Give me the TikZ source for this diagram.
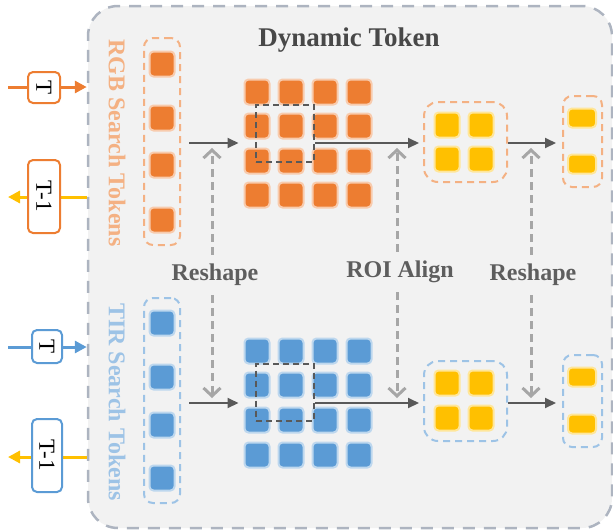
\documentclass[tikz,border=0pt]{standalone}
\usepackage{fontspec}
\setmainfont{Liberation Serif}
\usetikzlibrary{arrows.meta,calc}
\definecolor{bgfill}{HTML}{F2F2F2}
\definecolor{bgline}{HTML}{ADB4C0}
\definecolor{orng}{HTML}{ED7D31}
\definecolor{orngl}{HTML}{F8CBAD}
\definecolor{orngd}{HTML}{F4B183}
\definecolor{blu}{HTML}{5B9BD5}
\definecolor{blul}{HTML}{BDD7EE}
\definecolor{blud}{HTML}{9DC3E6}
\definecolor{ylw}{HTML}{FFC000}
\definecolor{ylwl}{HTML}{FFE699}
\definecolor{darkarr}{HTML}{595959}
\definecolor{dasharr}{HTML}{A6A6A6}
\definecolor{titlec}{HTML}{484848}
\definecolor{labc}{HTML}{5E5E5E}
\pgfdeclarelayer{back}
\pgfdeclarelayer{mid}
\pgfsetlayers{back,mid,main}
\begin{document}
\begin{tikzpicture}[x=1pt,y=-1pt,
  tok/.style={minimum size=25pt, inner sep=0pt, rounded corners=4pt, line width=2pt},
  otok/.style={tok, fill=orng, draw=orngl},
  btok/.style={tok, fill=blu, draw=blul},
  ytok/.style={tok, fill=ylw, draw=ylwl},
  yrect/.style={ytok, minimum width=28pt, minimum height=19pt},
  grp/.style={dash pattern=on 7pt off 5pt, line width=2pt, rounded corners=9pt, inner sep=0pt},
  roi/.style={draw=darkarr, dash pattern=on 6pt off 4pt, line width=2pt, inner sep=0pt, minimum width=58pt, minimum height=57pt},
  bgbox/.style={draw=bgline, fill=bgfill, line width=2.5pt, dash pattern=on 12pt off 9pt, rounded corners=30pt, minimum width=524pt, minimum height=522pt, inner sep=0pt},
  tbox/.style={rotate=-90, fill=white, line width=2pt, rounded corners=5pt, inner sep=0pt, font=\fontsize{23}{25}\selectfont},
  vlab/.style={rotate=-90, font=\fontsize{24}{26}\selectfont\bfseries},
  lab/.style={font=\fontsize{24}{26}\selectfont\bfseries, text=labc, fill=bgfill, inner xsep=0pt, inner ysep=9pt},
  darr/.style={draw=darkarr, line width=2pt, -{Triangle[length=11pt,width=10pt]}},
  oarr/.style={draw=orng, line width=3pt, -{Triangle[length=12pt,width=12pt]}},
  barr/.style={draw=blu, line width=3pt, -{Triangle[length=12pt,width=12pt]}},
  yarr/.style={draw=ylw, line width=3pt, -{Triangle[length=12pt,width=12pt]}},
  dsh/.style={draw=dasharr, line width=3pt, dash pattern=on 8pt off 5pt, -{Straight Barb[length=8pt,width=17pt]}}
]
\useasboundingbox (0,0) rectangle (613,531);
\begin{pgfonlayer}{back}
\node[bgbox] (bg) at (350,267) {};
\end{pgfonlayer}

% title and side labels
\node[font=\fontsize{27}{30}\selectfont\bfseries, text=titlec] (title) at (349,40) {Dynamic Token};
\node[vlab, text=orngd] (rgbt) at (117,143) {RGB Search Tokens};
\node[vlab, text=blud] (tirt) at (117,402) {TIR Search Tokens};

% ---------- RGB branch ----------
\node[grp, draw=orngd, minimum width=36pt, minimum height=207pt] (lcolR) at (162,141.5) {};
\foreach \i/\y in {1/64,2/118,3/165,4/220} \node[otok] (lr\i) at (162,\y) {};
\foreach \c/\x in {1/257,2/291,3/325,4/359}
  \foreach \r/\y in {1/92,2/126,3/161,4/195}
    \node[otok] (gr\r\c) at (\x,\y) {};
\node[roi] (roiR) at (285,133.5) {};
\node[grp, draw=orngd, rounded corners=14pt, minimum width=83pt, minimum height=80pt] (yboxR) at (465.5,142) {};
\node[ytok] (yr11) at (447,125) {};
\node[ytok] (yr12) at (481,125) {};
\node[ytok] (yr21) at (447,159) {};
\node[ytok] (yr22) at (481,159) {};
\node[grp, draw=orngd, minimum width=39pt, minimum height=91pt] (rboxR) at (582.5,141.5) {};
\node[yrect] (rr1) at (582,118) {};
\node[yrect] (rr2) at (582,164) {};

% ---------- TIR branch ----------
\node[grp, draw=blud, minimum width=36pt, minimum height=205pt] (lcolB) at (162,400.5) {};
\foreach \i/\y in {1/323,2/377,3/425,4/478} \node[btok] (lb\i) at (162,\y) {};
\foreach \c/\x in {1/257,2/291,3/325,4/359}
  \foreach \r/\y in {1/351,2/385,3/420,4/455}
    \node[btok] (gb\r\c) at (\x,\y) {};
\node[roi] (roiB) at (285,392) {};
\node[grp, draw=blud, rounded corners=14pt, minimum width=83pt, minimum height=80pt] (yboxB) at (465.5,401) {};
\node[ytok] (yb11) at (447,383) {};
\node[ytok] (yb12) at (481,383) {};
\node[ytok] (yb21) at (447,418) {};
\node[ytok] (yb22) at (481,418) {};
\node[grp, draw=blud, minimum width=39pt, minimum height=92pt] (rboxB) at (582.5,401) {};
\node[yrect] (rb1) at (582,377) {};
\node[yrect] (rb2) at (582,424) {};

% ---------- T boxes ----------
\node[tbox, draw=orng, minimum width=31pt, minimum height=32pt] (tR) at (44,87.5) {T};
\node[tbox, draw=orng, minimum width=73pt, minimum height=32pt] (t1R) at (44,196.5) {T-1};
\node[tbox, draw=blu, minimum width=33pt, minimum height=30pt] (tB) at (47,346.5) {T};
\node[tbox, draw=blu, minimum width=73pt, minimum height=30pt] (t1B) at (47,455.5) {T-1};

% ---------- labels ----------
\node[lab] (rs1) at (215,275) {Reshape};
\node[lab] (roil) at (400,272) {ROI Align};
\node[lab] (rs2) at (533,275) {Reshape};

\coordinate (rowR) at (0,143);
\coordinate (rowB) at (0,403);
\coordinate (a1t) at (212,148);
\coordinate (a1b) at (212,398);
\coordinate (a2t) at (397,148);
\coordinate (a2b) at (397,398);
\coordinate (a3t) at (531,148);
\coordinate (a3b) at (531,398);
\coordinate (inR) at (8,87);
\coordinate (outR) at (8,197);
\coordinate (inB) at (8,347);
\coordinate (outB) at (8,457);

\begin{pgfonlayer}{mid}
\draw[oarr] (inR) -- (inR -| bg.west);
\draw[yarr] (outR -| bg.west) -- (outR);
\draw[barr] (inB) -- (inB -| bg.west);
\draw[yarr] (outB -| bg.west) -- (outB);
\end{pgfonlayer}

\draw[darr, shorten <=8pt, shorten >=5pt] (lcolR.east |- rowR) -- (gr11.west |- rowR);
\draw[darr, shorten >=4pt] (roiR.east |- rowR) -- (yboxR.west |- rowR);
\draw[darr, shorten >=6pt] (yboxR.east |- rowR) -- (rboxR.west |- rowR);
\draw[darr, shorten <=8pt, shorten >=5pt] (lcolB.east |- rowB) -- (gb11.west |- rowB);
\draw[darr, shorten >=4pt] (roiB.east |- rowB) -- (yboxB.west |- rowB);
\draw[darr, shorten >=6pt] (yboxB.east |- rowB) -- (rboxB.west |- rowB);

\draw[dsh] (rs1.north -| a1t) -- (a1t);
\draw[dsh] (rs1.south -| a1b) -- (a1b);
\draw[dsh] (roil.north -| a2t) -- (a2t);
\draw[dsh] (roil.south -| a2b) -- (a2b);
\draw[dsh] (rs2.north -| a3t) -- (a3t);
\draw[dsh] (rs2.south -| a3b) -- (a3b);
\end{tikzpicture}
\end{document}
